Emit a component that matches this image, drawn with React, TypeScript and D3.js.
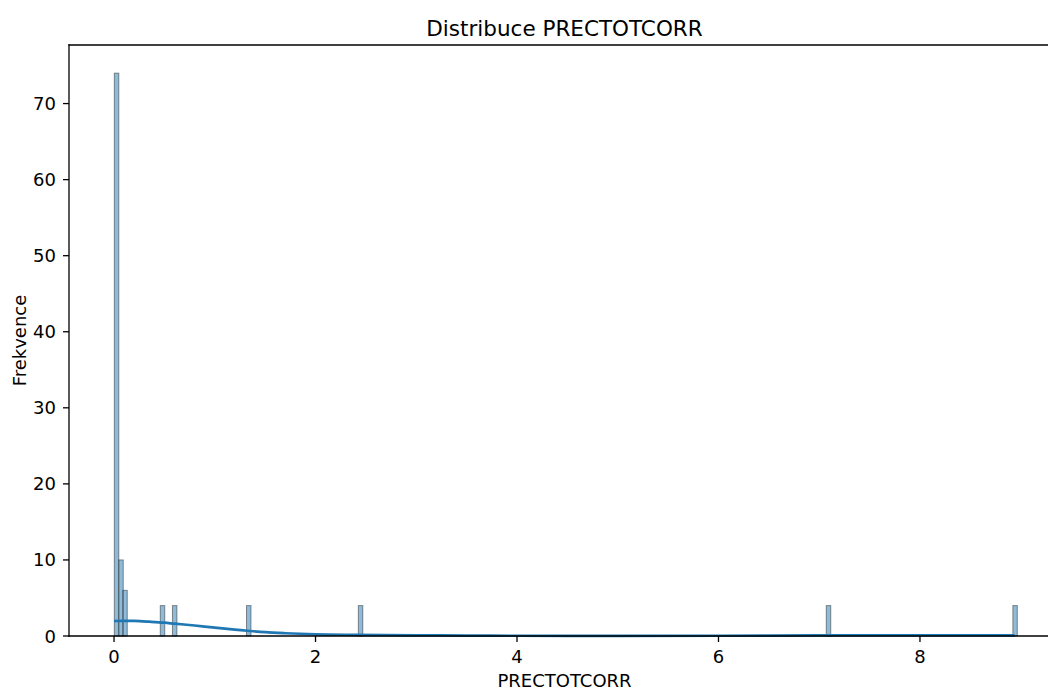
import { useEffect, useRef } from 'react';
import * as d3 from 'd3';

// histogram bins (start of each filled bin) and their counts
const binStarts = [0.003, 0.047, 0.087, 0.459, 0.58, 1.315, 2.425, 7.07, 8.922];
const binCounts = [74, 10, 6, 4, 4, 4, 4, 4, 4];
const binWidth = 0.0443;

// kde curve
const kdeX = [0, 0.1, 0.2, 0.35, 0.5, 0.6, 0.8, 1.0, 1.2, 1.35, 1.5, 1.7, 2.0, 2.4, 3.0, 3.5, 4.0, 5.0, 6.0, 6.5, 7.0, 7.5, 8.0, 8.5, 8.94];
const kdeY = [1.97, 2.0, 1.98, 1.88, 1.75, 1.62, 1.38, 1.1, 0.85, 0.66, 0.5, 0.36, 0.22, 0.15, 0.09, 0.05, 0.03, 0.02, 0.03, 0.05, 0.07, 0.08, 0.08, 0.08, 0.07];

const xTicks = [0, 2, 4, 6, 8];
const yTicks = [0, 10, 20, 30, 40, 50, 60, 70];

const App: React.FC = () => {
  const svgRef = useRef<SVGSVGElement | null>(null);

  useEffect(() => {
    if (svgRef.current === null) return;
    const width = 1048;
    const height = 689;
    // plot area; the right edge lies past the picture, as in the original crop
    const margin = { top: 45, left: 69, bottom: 636, right: 1060 };
    const font = 'DejaVu Sans, sans-serif';

    const svg = d3.select(svgRef.current).attr('width', width).attr('height', height);
    svg.selectAll('*').remove();

    const x = d3.scaleLinear().domain([-0.447, 9.39]).range([margin.left, margin.right]);
    const y = d3.scaleLinear().domain([0, 77.7]).range([margin.bottom, margin.top]);

    // bars
    svg
      .selectAll('.bar')
      .data(binStarts)
      .enter()
      .append('rect')
      .attr('class', 'bar')
      .attr('x', (d) => x(d))
      .attr('width', (d) => x(d + binWidth) - x(d))
      .attr('y', (_d, i) => y(binCounts[i]))
      .attr('height', (_d, i) => y(0) - y(binCounts[i]))
      .attr('fill', 'rgba(31,119,180,0.5)')
      .attr('stroke', 'rgba(40,40,40,0.5)')
      .attr('stroke-width', 1);

    // kde line
    const line = d3
      .line<number>()
      .x((d) => x(d))
      .y((_d, i) => y(kdeY[i]))
      .curve(d3.curveMonotoneX);
    svg
      .append('path')
      .attr('d', line(kdeX))
      .attr('fill', 'none')
      .attr('stroke', '#1f77b4')
      .attr('stroke-width', 2.7);

    // spines (right one is outside the picture)
    const spine = (x1: number, y1: number, x2: number, y2: number) =>
      svg
        .append('line')
        .attr('x1', x1)
        .attr('y1', y1)
        .attr('x2', x2)
        .attr('y2', y2)
        .attr('stroke', '#000')
        .attr('stroke-width', 1.3)
        .attr('stroke-linecap', 'square');
    spine(margin.left, margin.top, margin.left, margin.bottom);
    spine(margin.left, margin.bottom, margin.right, margin.bottom);
    spine(margin.left, margin.top, margin.right, margin.top);

    // x ticks
    const xg = svg.append('g');
    xTicks.forEach((t) => {
      xg.append('line')
        .attr('x1', x(t))
        .attr('x2', x(t))
        .attr('y1', margin.bottom)
        .attr('y2', margin.bottom + 6)
        .attr('stroke', '#000')
        .attr('stroke-width', 1.3);
      xg.append('text')
        .attr('x', x(t))
        .attr('y', margin.bottom + 27)
        .attr('text-anchor', 'middle')
        .style('font-family', font)
        .style('font-size', '18px')
        .text(String(t));
    });

    // y ticks
    const yg = svg.append('g');
    yTicks.forEach((t) => {
      yg.append('line')
        .attr('x1', margin.left - 6)
        .attr('x2', margin.left)
        .attr('y1', y(t))
        .attr('y2', y(t))
        .attr('stroke', '#000')
        .attr('stroke-width', 1.3);
      yg.append('text')
        .attr('x', margin.left - 13)
        .attr('y', y(t) + 6.5)
        .attr('text-anchor', 'end')
        .style('font-family', font)
        .style('font-size', '18px')
        .text(String(t));
    });

    // labels
    svg
      .append('text')
      .attr('x', (margin.left + margin.right) / 2)
      .attr('y', 36)
      .attr('text-anchor', 'middle')
      .style('font-family', font)
      .style('font-size', '21.5px')
      .text('Distribuce PRECTOTCORR');
    svg
      .append('text')
      .attr('x', (margin.left + margin.right) / 2)
      .attr('y', 687)
      .attr('text-anchor', 'middle')
      .style('font-family', font)
      .style('font-size', '18px')
      .text('PRECTOTCORR');
    svg
      .append('text')
      .attr('transform', `translate(25.5, ${(margin.top + margin.bottom) / 2}) rotate(-90)`)
      .attr('text-anchor', 'middle')
      .style('font-family', font)
      .style('font-size', '18px')
      .text('Frekvence');
  }, []);

  return <svg ref={svgRef} style={{ position: 'absolute', left: 0, top: 0, background: '#fff' }}></svg>;
};

export default App;
